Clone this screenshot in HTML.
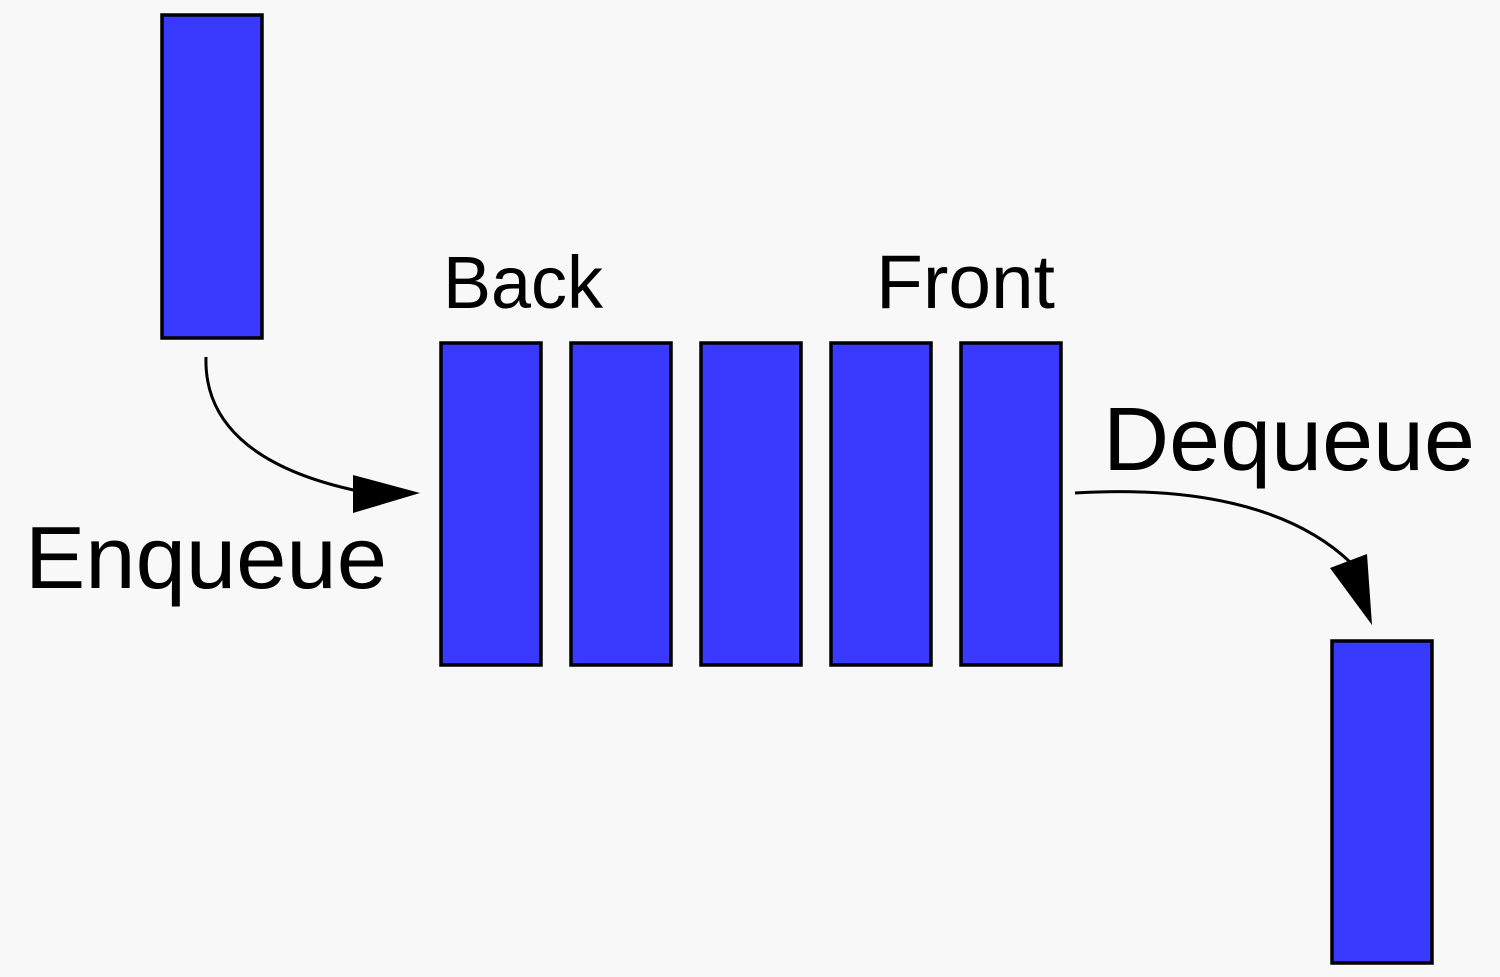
<!DOCTYPE html>
<html><head><meta charset="utf-8"><style>
html,body{margin:0;padding:0;background:#f8f8f8;}
svg{display:block}
text{font-family:"Liberation Sans",sans-serif;fill:#000}
</style></head><body>
<svg width="1500" height="977" viewBox="0 0 1500 977" xmlns="http://www.w3.org/2000/svg">
<rect width="1500" height="977" fill="#f8f8f8"/>
<g fill="#3a3aff" stroke="#000" stroke-width="3.5">
<rect x="162" y="15" width="100" height="323"/>
<rect x="441" y="343" width="100" height="322"/>
<rect x="571" y="343" width="100" height="322"/>
<rect x="701" y="343" width="100" height="322"/>
<rect x="831" y="343" width="100" height="322"/>
<rect x="961" y="343" width="100" height="322"/>
<rect x="1332" y="641" width="100" height="322"/>
</g>
<path d="M206,357 C204,420 250,468 358,491" fill="none" stroke="#000" stroke-width="3"/>
<polygon points="353,475 420,493 353,513" fill="#000"/>
<path d="M1075,493 C1190,486 1290,505 1350,562" fill="none" stroke="#000" stroke-width="3"/>
<polygon points="1330,568 1367,554 1372,625" fill="#000"/>
<text x="443" y="308" font-size="74" textLength="160" lengthAdjust="spacingAndGlyphs">Back</text>
<text x="876" y="308" font-size="76" textLength="179" lengthAdjust="spacingAndGlyphs">Front</text>
<text x="25" y="588" font-size="88" textLength="362" lengthAdjust="spacingAndGlyphs">Enqueue</text>
<text x="1103" y="470" font-size="90" textLength="372" lengthAdjust="spacingAndGlyphs">Dequeue</text>
</svg>
</body></html>
